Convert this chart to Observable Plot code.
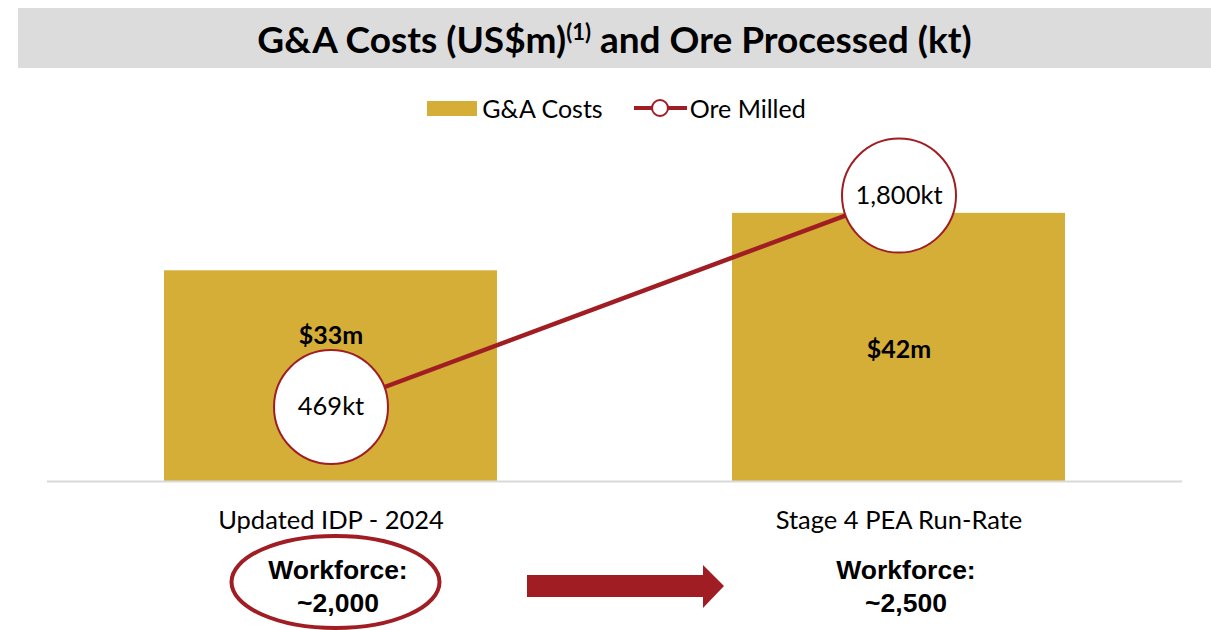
<!DOCTYPE html>
<html>
<head>
<meta charset="utf-8">
<script src="https://cdn.jsdelivr.net/npm/d3@7"></script>
<script src="https://cdn.jsdelivr.net/npm/@observablehq/plot@0.6"></script>
<style>
  html, body { margin: 0; padding: 0; background: #fff; }
  #wrap { position: relative; width: 1211px; height: 630px; overflow: hidden; font-family: Lato, "Open Sans", sans-serif; color: #000; }
  #title { margin: 8px 0 0 18px; height: 60px; background: #dcdcdc; text-align: center; line-height: 62px;
           font-family: Lato, sans-serif; font-weight: 700; font-size: 37px; }
  #title sup { font-size: 22px; line-height: 0; vertical-align: 0.6em; }
  #legend { height: 62px; box-sizing: border-box; padding-top: 18px; padding-left: 22px; display: flex; justify-content: center; align-items: center;
            font-family: Lato, sans-serif; font-size: 25px; }
  #legend .sw { display: inline-block; width: 50px; height: 15px; margin-right: 5px; }
  #legend .item { display: flex; align-items: center; }
  #chart svg { display: block; }
</style>
</head>
<body>
<div id="wrap">
  <div id="title">G&amp;A Costs (US$m)<sup>(1)</sup> and Ore Processed (kt)</div>
  <div id="legend"></div>
  <div id="chart"></div>
</div>
<script>
// ---- data ----
const categories = ["Updated IDP - 2024", "Stage 4 PEA Run-Rate"];
const gaCosts = [33, 42];                 // US$m
const gaLabels = ["$33m", "$42m"];
const oreMilled = [469, 1800];            // kt
const oreLabels = ["469kt", "1,800kt"];
const workforceLabels = ["Workforce:\n~2,000", "Workforce:\n~2,500"];
const seriesNames = ["G&A Costs", "Ore Milled"];

// ---- styling ----
const gold = "#d4ae37";
const red = "#a01e23";
const yMax = 52;          // primary axis (US$m) top
const oreAxisMax = 2090;  // secondary axis (kt) top

const rows = categories.map((c, i) => ({
  category: c,
  cost: gaCosts[i],
  costLabel: gaLabels[i],
  ore: oreMilled[i],
  oreY: oreMilled[i] / oreAxisMax * yMax,
  oreLabel: oreLabels[i],
  workforce: workforceLabels[i]
}));

// legend
const legend = document.getElementById("legend");
legend.innerHTML = `
  <span class="item"><span class="sw" style="background:${gold}"></span>${seriesNames[0]}</span>
  <span class="item" style="margin-left:30px">
    <svg width="55" height="20" style="margin-right:2px"><line x1="1" x2="54" y1="10" y2="10" stroke="${red}" stroke-width="4"/>
    <circle cx="27" cy="10" r="8" fill="#fff" stroke="${red}" stroke-width="2"/></svg>${seriesNames[1]}</span>`;

const plot = Plot.plot({
  width: 1211,
  height: 500,
  marginLeft: 47,
  marginRight: 29,
  marginTop: 19,
  marginBottom: 149,
  style: { fontFamily: "Lato, sans-serif", color: "#000", background: "transparent", overflow: "visible" },
  x: { domain: categories, paddingInner: 0.413, paddingOuter: 0.204, axis: null },
  y: { domain: [0, yMax], axis: null },
  marks: [
    Plot.barY(rows, { x: "category", y: "cost", fill: gold }),
    Plot.ruleY([0], { stroke: "#d9d9d9", strokeWidth: 2 }),
    Plot.text(rows.filter((d, i) => i === 0), { x: "category", y: d => d.cost / 2, text: "costLabel", dy: -40, fontSize: 25, fontWeight: 700 }),
    Plot.text(rows.filter((d, i) => i === 1), { x: "category", y: d => d.cost / 2, text: "costLabel", dy: 3, fontSize: 25, fontWeight: 700 }),
    Plot.line(rows, { x: "category", y: "oreY", stroke: red, strokeWidth: 4.5 }),
    Plot.dot(rows, { x: "category", y: "oreY", r: 57, fill: "white", stroke: red, strokeWidth: 2 }),
    Plot.text(rows, { x: "category", y: "oreY", text: "oreLabel", fontSize: 25.5 }),
    Plot.text(rows, { x: "category", text: "category", frameAnchor: "bottom", lineAnchor: "middle", dy: 39, fontSize: 25.5 }),
    Plot.text(rows, { x: "category", text: "workforce", frameAnchor: "bottom", lineAnchor: "middle", dy: 103, dx: 7, fontSize: 26.5, fontWeight: 700,
                      fontFamily: "'Liberation Sans', Arial, sans-serif", lineHeight: 1.25 })
  ]
});
document.getElementById("chart").appendChild(plot);

// decorations: ellipse around current workforce and arrow
const xs = plot.scale("x");
const bw = xs.bandwidth;
const x0 = xs.apply(categories[0]);
const x1 = xs.apply(categories[1]);
const base = 351; // baseline y inside svg (height - marginBottom)
const svg = d3.select(plot);
svg.append("ellipse")
  .attr("cx", x0 + bw / 2 + 5).attr("cy", base + 101)
  .attr("rx", 104).attr("ry", 46)
  .attr("fill", "none").attr("stroke", red).attr("stroke-width", 4);
const ax0 = x0 + bw + 30, ax1 = x1 - 8, ay = base + 105;
svg.append("path")
  .attr("d", `M${ax0},${ay - 11} L${ax1 - 21},${ay - 11} L${ax1 - 21},${ay - 21} L${ax1},${ay} L${ax1 - 21},${ay + 22} L${ax1 - 21},${ay + 11} L${ax0},${ay + 11} Z`)
  .attr("fill", red);
</script>
</body>
</html>
